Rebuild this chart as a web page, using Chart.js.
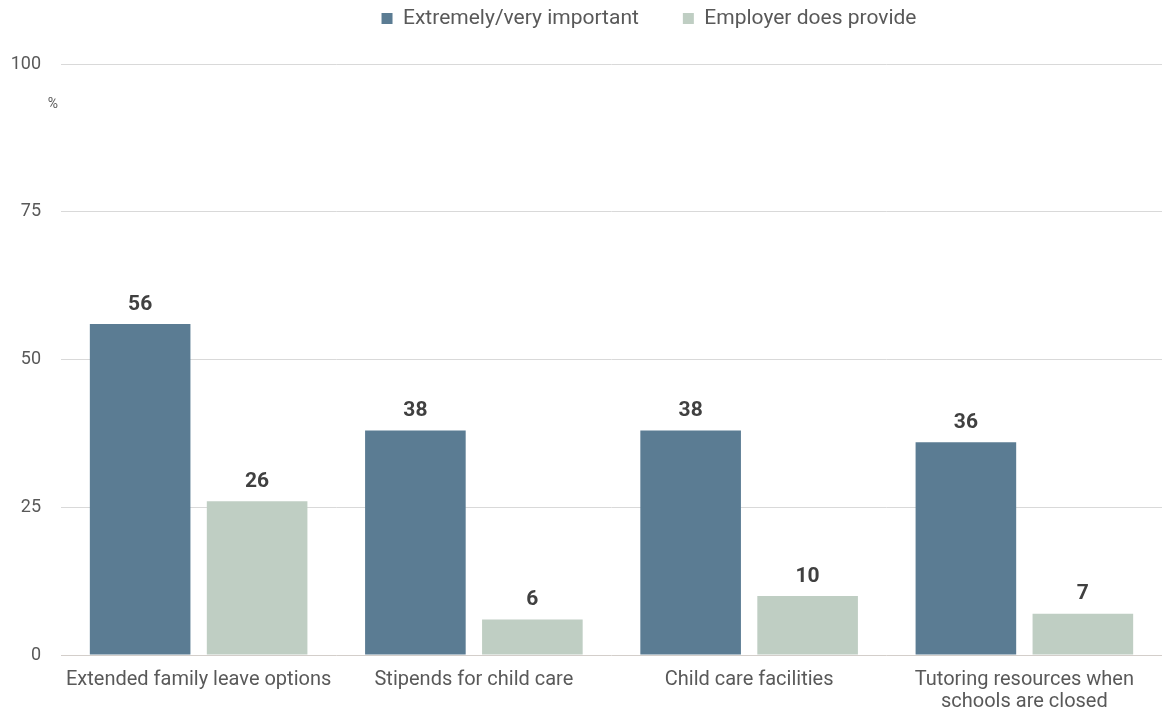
<!DOCTYPE html>
<html>
<head>
<meta charset="utf-8">
<script src="https://cdn.jsdelivr.net/npm/chart.js@4"></script>
<style>
  body { margin: 0; background: #fff; }
  #wrap { width: 1162px; height: 713px; }
</style>
</head>
<body>
<div id="wrap"><canvas id="chart"></canvas></div>
<script>
const categories = [
    "Extended family leave options",
    "Stipends for child care",
    "Child care facilities",
    ["Tutoring resources when", "schools are closed"]
];
const importantValues = [56, 38, 38, 36];
const provideValues = [26, 6, 10, 7];
const yTicks = [0, 25, 50, 75, 100];

// value labels above each bar
const barLabels = {
    id: 'barLabels',
    afterDatasetsDraw(chart) {
        const ctx = chart.ctx;
        ctx.save();
        ctx.font = 'bold 21px Roboto';
        ctx.fillStyle = '#404040';
        ctx.textAlign = 'center';
        ctx.textBaseline = 'bottom';
        chart.data.datasets.forEach((ds, i) => {
            chart.getDatasetMeta(i).data.forEach((bar, j) => {
                ctx.fillText(ds.data[j], bar.x, bar.y - 9);
            });
        });
        ctx.restore();
    }
};

// "%" unit under the top tick
const unitLabel = {
    id: 'unitLabel',
    afterDraw(chart) {
        const ctx = chart.ctx;
        const y = chart.scales.y.getPixelForValue(100) + 40;
        ctx.save();
        ctx.font = '14px Roboto';
        ctx.fillStyle = '#595959';
        ctx.textAlign = 'center';
        ctx.textBaseline = 'middle';
        ctx.fillText('%', chart.chartArea.left - 8, y);
        ctx.restore();
    }
};

// more room under the legend, and legend nudged right like the original
const legendGap = {
    id: 'legendGap',
    beforeInit(chart) {
        const fit = chart.legend.fit;
        chart.legend.fit = function() {
            fit.call(this);
            this.height += 25;
        };
    },
    afterLayout(chart) {
        chart.legend.left += 66;
        chart.legend.right += 66;
    }
};

new Chart(document.getElementById('chart'), {
    type: 'bar',
    data: {
        labels: categories,
        datasets: [
            {
                label: 'Extremely/very important',
                backgroundColor: '#5B7C93',
                data: importantValues
            },
            {
                label: 'Employer does provide',
                backgroundColor: '#BFCEC3',
                data: provideValues
            }
        ]
    },
    options: {
        responsive: true,
        maintainAspectRatio: false,
        animation: false,
        layout: { padding: { top: -36, right: -4, left: 0, bottom: -6 } },
        datasets: {
            bar: { categoryPercentage: 0.85, barPercentage: 0.86 }
        },
        plugins: {
            legend: {
                position: 'top',
                labels: {
                    boxWidth: 11,
                    boxHeight: 11,
                    padding: 44,
                    color: '#595959',
                    font: { family: 'Roboto', size: 21 }
                }
            },
            tooltip: { enabled: false }
        },
        scales: {
            x: {
                grid: { display: false },
                border: { display: false },
                ticks: {
                    color: '#595959',
                    padding: 6,
                    maxRotation: 0,
                    font: { family: 'Roboto', size: 20, lineHeight: 1.1 }
                }
            },
            y: {
                min: 0,
                max: 100,
                afterBuildTicks(scale) {
                    scale.ticks = yTicks.map(v => ({ value: v }));
                },
                afterFit(scale) { scale.width = 61; },
                grid: {
                    color: ctx => ctx.tick && ctx.tick.value === 0 ? '#D3CECA' : '#D9D9D9',
                    drawTicks: false
                },
                border: { display: false },
                ticks: {
                    color: '#595959',
                    padding: 20,
                    font: { family: 'Roboto', size: 18 }
                }
            }
        }
    },
    plugins: [barLabels, unitLabel, legendGap]
});
</script>
</body>
</html>
